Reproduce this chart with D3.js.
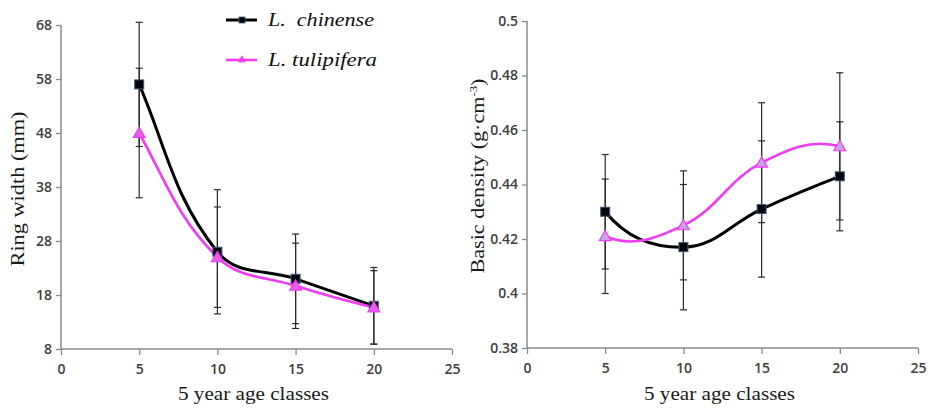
<!DOCTYPE html>
<html>
<head>
<meta charset="utf-8">
<script src="https://cdn.jsdelivr.net/npm/d3@7"></script>
<style>
  html, body { margin: 0; padding: 0; background: #ffffff; }
  svg { display: block; }
</style>
</head>
<body>
<svg id="chart" width="931" height="411"></svg>
<script>
// ---------------- data ----------------
const ageClasses = [5, 10, 15, 20];
const xTickValues = [0, 5, 10, 15, 20, 25];

const ringChinense       = [57.0, 26.0, 21.0, 16.0];
const ringChinenseErr    = [11.5, 11.5, 8.3, 7.1];
const ringTulipifera     = [48.0, 25.0, 19.7, 15.7];
const ringTulipiferaErr  = [12.0, 9.3, 7.9, 6.8];
const ringTickValues     = [8, 18, 28, 38, 48, 58, 68];

const densChinense       = [0.430, 0.417, 0.431, 0.443];
const densChinenseErr    = [0.021, 0.023, 0.025, 0.020];
const densTulipifera     = [0.421, 0.425, 0.448, 0.454];
const densTulipiferaErr  = [0.021, 0.020, 0.022, 0.027];
const densTickValues     = [0.38, 0.40, 0.42, 0.44, 0.46, 0.48, 0.50];

const seriesNames = ["L.  chinense", "L. tulipifera"];

// ---------------- styles ----------------
const BLACK = "#000000";
const MAGENTA = "#f03cf0";
const AXIS = "#8a8a8a";
const TICKTXT = "#404040";
const SERIF = "'Liberation Serif', 'Times New Roman', serif";
const SANS = "'Open Sans', 'Liberation Sans', Arial, sans-serif";

const svg = d3.select("#chart");

// Smooth curve (spreadsheet-like): tangent along neighbour chord, arm length
// proportional to segment length, end tangents mirrored with a weight that
// grows with the relative length of the adjacent segment.
function smoothPath(pts, k) {
  const n = pts.length;
  const sub = (a, b) => [a[0] - b[0], a[1] - b[1]];
  const len = v => Math.hypot(v[0], v[1]);
  const ang = v => Math.atan2(v[1], v[0]);
  const T = new Array(n);
  for (let i = 1; i < n - 1; i++) {
    const a = ang(sub(pts[i + 1], pts[i - 1]));
    T[i] = [Math.cos(a), Math.sin(a)];
  }
  const endT = (tIn, chord, adjLen) => {
    const ratio = adjLen / len(chord);
    const w = Math.min(1.8, Math.pow(ratio, 2.5));
    const c = ang(chord), t = ang(tIn);
    const a = c + w * (c - t);
    return [Math.cos(a), Math.sin(a)];
  };
  T[0] = endT(T[1], sub(pts[1], pts[0]), len(sub(pts[2], pts[1])));
  T[n - 1] = endT(T[n - 2], sub(pts[n - 1], pts[n - 2]), len(sub(pts[n - 2], pts[n - 3])));
  const p = d3.path();
  p.moveTo(pts[0][0], pts[0][1]);
  for (let i = 0; i < n - 1; i++) {
    const d = len(sub(pts[i + 1], pts[i]));
    const c1 = [pts[i][0] + T[i][0] * d * k, pts[i][1] + T[i][1] * d * k];
    const c2 = [pts[i + 1][0] - T[i + 1][0] * d * k, pts[i + 1][1] - T[i + 1][1] * d * k];
    p.bezierCurveTo(c1[0], c1[1], c2[0], c2[1], pts[i + 1][0], pts[i + 1][1]);
  }
  return p.toString();
}

function drawPanel(cfg) {
  const g = svg.append("g");
  const x = d3.scaleLinear().domain([0, 25]).range([cfg.left, cfg.right]);
  const y = d3.scaleLinear().domain(cfg.yDomain).range([cfg.bottom, cfg.top]);

  // axes
  const yAxis = d3.axisLeft(y).tickValues(cfg.yTicks).tickSize(5).tickPadding(4)
    .tickFormat(cfg.yFormat);
  const gy = g.append("g").attr("transform", `translate(${cfg.left},0)`).call(yAxis);
  const xAxis = d3.axisBottom(x).tickValues(xTickValues).tickSize(6).tickPadding(9)
    .tickFormat(d3.format("d"));
  const gx = g.append("g").attr("transform", `translate(0,${cfg.bottom})`).call(xAxis);
  [gx, gy].forEach(a => {
    a.attr("font-size", null).attr("font-family", null);
    a.select(".domain").attr("stroke", AXIS).attr("stroke-width", 1.5);
    a.selectAll(".tick line").attr("stroke", AXIS).attr("stroke-width", 1.3);
    a.selectAll(".tick text").attr("fill", TICKTXT)
      .style("font-family", SANS).style("font-size", "14px").style("font-weight", "600");
  });
  gx.select(".domain").attr("d", `M${cfg.left},0H${cfg.right}`);
  gy.select(".domain").attr("d", `M0,${cfg.bottom}V${cfg.top}`);

  const series = [
    { vals: cfg.tul, err: cfg.tulErr, color: MAGENTA, width: 2.6, marker: "tri" },
    { vals: cfg.chi, err: cfg.chiErr, color: BLACK, width: 3, marker: "sq" }
  ];

  // error bars
  const eb = g.append("g").attr("stroke", "#2b2b2b").attr("stroke-width", 1.2).attr("fill", "none");
  series.forEach(s => {
    ageClasses.forEach((a, i) => {
      const cx = x(a), y1 = y(s.vals[i] + s.err[i]), y0 = y(s.vals[i] - s.err[i]);
      eb.append("line").attr("x1", cx).attr("x2", cx).attr("y1", y1).attr("y2", y0);
      eb.append("line").attr("x1", cx - 3.5).attr("x2", cx + 3.5).attr("y1", y1).attr("y2", y1);
      eb.append("line").attr("x1", cx - 3.5).attr("x2", cx + 3.5).attr("y1", y0).attr("y2", y0);
    });
  });

  // lines
  const order = cfg.lineOrder;
  order.forEach(idx => {
    const s = series[idx];
    const pts = ageClasses.map((a, i) => [x(a), y(s.vals[i])]);
    g.append("path").attr("d", smoothPath(pts, 0.38)).attr("fill", "none")
      .attr("stroke", s.color).attr("stroke-width", s.width)
      .attr("stroke-linecap", "round").attr("stroke-linejoin", "round");
  });
  // markers
  order.forEach(idx => {
    const s = series[idx];
    ageClasses.forEach((a, i) => {
      const cx = x(a), cy = y(s.vals[i]);
      if (s.marker === "sq") {
        g.append("rect").attr("x", cx - 4.5).attr("y", cy - 4.5).attr("width", 9).attr("height", 9)
          .attr("fill", "#05050f").attr("stroke", "#3d5873").attr("stroke-width", 1);
      } else {
        g.append("path").attr("d", d3.symbol(d3.symbolTriangle, 60)())
          .attr("transform", `translate(${cx},${cy + 1})`)
          .attr("fill", cfg.triFill).attr("stroke", MAGENTA).attr("stroke-width", 1.2);
      }
    });
  });

  // axis titles
  g.append("text").attr("x", (cfg.left + cfg.right) / 2 - 3).attr("y", 400)
    .attr("text-anchor", "middle").attr("fill", "#1a1a1a")
    .style("font-family", SERIF).style("font-size", "19px")
    .attr("textLength", 151).attr("lengthAdjust", "spacingAndGlyphs")
    .text("5 year age classes");

  const yt = g.append("text")
    .attr("transform", `translate(${cfg.yTitleX},${cfg.yTitleY}) rotate(-90)`)
    .attr("text-anchor", "middle").attr("fill", "#1a1a1a")
    .style("font-family", SERIF).style("font-size", "19px")
    .attr("textLength", cfg.yTitleLen).attr("lengthAdjust", "spacingAndGlyphs");
  cfg.yTitle(yt);
}

drawPanel({
  left: 61, right: 452, top: 25, bottom: 349,
  yDomain: [8, 68], yTicks: ringTickValues, yFormat: d3.format("d"),
  chi: ringChinense, chiErr: ringChinenseErr, tul: ringTulipifera, tulErr: ringTulipiferaErr,
  lineOrder: [1, 0], triFill: "#e45ee8",
  yTitleX: 24, yTitleY: 189, yTitleLen: 155,
  yTitle: t => t.text("Ring width (mm)")
});

drawPanel({
  left: 527, right: 918, top: 21, bottom: 348,
  yDomain: [0.38, 0.50], yTicks: densTickValues, yFormat: d => String(+d.toFixed(2)),
  chi: densChinense, chiErr: densChinenseErr, tul: densTulipifera, tulErr: densTulipiferaErr,
  lineOrder: [1, 0], triFill: "#c9a3e0",
  yTitleX: 484, yTitleY: 176, yTitleLen: 195,
  yTitle: t => {
    t.append("tspan").text("Basic density (g·cm");
    t.append("tspan").attr("dy", -7).style("font-size", "11px").text("-3");
    t.append("tspan").attr("dy", 7).text(")");
  }
});

// legend
const legend = svg.append("g");
const legendRows = [
  { name: seriesNames[0], color: BLACK, width: 3, marker: "sq", y: 20, ty: 26, len: 106 },
  { name: seriesNames[1], color: MAGENTA, width: 2.6, marker: "tri", y: 60, ty: 66, len: 109 }
];
legendRows.forEach(r => {
  legend.append("line").attr("x1", 226).attr("x2", 257).attr("y1", r.y).attr("y2", r.y)
    .attr("stroke", r.color).attr("stroke-width", r.width);
  if (r.marker === "sq") {
    legend.append("rect").attr("x", 239).attr("y", r.y - 3).attr("width", 6).attr("height", 6)
      .attr("fill", "#05050f").attr("stroke", "#3d5873").attr("stroke-width", 0.8);
  } else {
    legend.append("path").attr("d", d3.symbol(d3.symbolTriangle, 28)())
      .attr("transform", `translate(242,${r.y})`).attr("fill", MAGENTA);
  }
  legend.append("text").attr("x", 268).attr("y", r.ty)
    .attr("fill", "#111").style("font-family", SERIF).style("font-style", "italic")
    .style("font-size", "19px").style("white-space", "pre").attr("xml:space", "preserve")
    .attr("textLength", r.len).attr("lengthAdjust", "spacingAndGlyphs")
    .text(r.name);
});
</script>
</body>
</html>
